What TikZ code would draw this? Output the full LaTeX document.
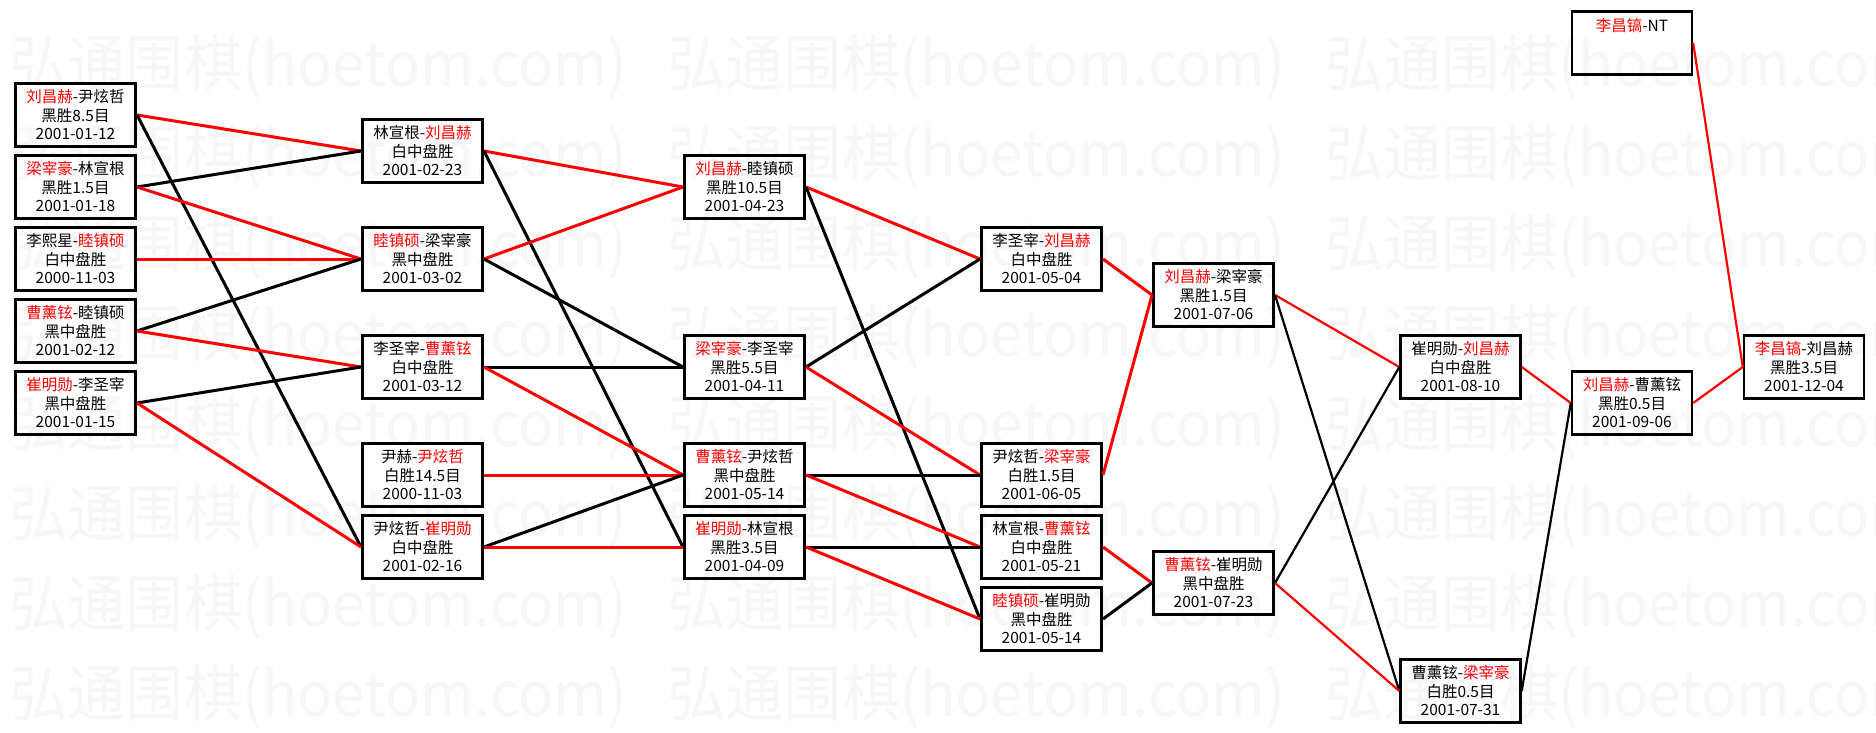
\documentclass[tikz,border=0pt]{standalone}
\usepackage{fontspec}
\usepackage{graphicx}
\newfontfamily\cjk{Noto Sans CJK SC}
\def\win#1{\textcolor{red}{#1}}
\tikzset{
	game/.style={draw, line width=1.5pt, minimum width=60pt, minimum height=31.5pt,
		inner sep=0pt, align=center, font=\cjk\fontsize{7.75}{9.25}\selectfont},
	gamethin/.style={game, line width=1.2pt},
	won/.style={draw=red, line width=1.5pt},
	lost/.style={draw=black, line width=1.5pt},
	wonthin/.style={won, line width=1.1pt},
	lostthin/.style={lost, line width=1.1pt},
	mark wm/.style={anchor=west, inner sep=0pt, text=black!3}
}

\begin{document}
\begin{tikzpicture}[x=0.5pt, y=-0.5pt]
		%%%%% START %%%%%
		\useasboundingbox[fill=white] (0, 0) rectangle (1876, 733);
		\foreach \wy in {67, 157, ..., 697}
			\foreach \wx in {9, 667, 1325}
				\node[mark wm] (wm-\wx-\wy) at (\wx, \wy) {\resizebox{309pt}{26pt}{\cjk 弘通围棋(hoetom.com)}};
		
		% round 1
		\node[game] (c1a) at (75.5, 115) {\win{刘昌赫}-尹炫哲\\黑胜8.5目\\2001-01-12};
		\node[game] (c1b) at (75.5, 187) {\win{梁宰豪}-林宣根\\黑胜1.5目\\2001-01-18};
		\node[game] (c1c) at (75.5, 259) {李熙星-\win{睦镇硕}\\白中盘胜\\2000-11-03};
		\node[game] (c1d) at (75.5, 331) {\win{曹薰铉}-睦镇硕\\黑中盘胜\\2001-02-12};
		\node[game] (c1e) at (75.5, 403) {\win{崔明勋}-李圣宰\\黑中盘胜\\2001-01-15};
		
		% round 2
		\node[game] (c2a) at (422.5, 151) {林宣根-\win{刘昌赫}\\白中盘胜\\2001-02-23};
		\node[game] (c2b) at (422.5, 259) {\win{睦镇硕}-梁宰豪\\黑中盘胜\\2001-03-02};
		\node[game] (c2c) at (422.5, 367) {李圣宰-\win{曹薰铉}\\白中盘胜\\2001-03-12};
		\node[game] (c2d) at (422.5, 475) {尹赫-\win{尹炫哲}\\白胜14.5目\\2000-11-03};
		\node[game] (c2e) at (422.5, 547) {尹炫哲-\win{崔明勋}\\白中盘胜\\2001-02-16};
		
		% round 3
		\node[game] (c3a) at (744.5, 187) {\win{刘昌赫}-睦镇硕\\黑胜10.5目\\2001-04-23};
		\node[game] (c3b) at (744.5, 367) {\win{梁宰豪}-李圣宰\\黑胜5.5目\\2001-04-11};
		\node[game] (c3c) at (744.5, 475) {\win{曹薰铉}-尹炫哲\\黑中盘胜\\2001-05-14};
		\node[game] (c3d) at (744.5, 547) {\win{崔明勋}-林宣根\\黑胜3.5目\\2001-04-09};
		
		% round 4
		\node[game] (c4a) at (1041.5, 259) {李圣宰-\win{刘昌赫}\\白中盘胜\\2001-05-04};
		\node[game] (c4b) at (1041.5, 475) {尹炫哲-\win{梁宰豪}\\白胜1.5目\\2001-06-05};
		\node[game] (c4c) at (1041.5, 547) {林宣根-\win{曹薰铉}\\白中盘胜\\2001-05-21};
		\node[game] (c4d) at (1041.5, 619) {\win{睦镇硕}-崔明勋\\黑中盘胜\\2001-05-14};
		
		% round 5 to final
		\node[game] (c5a) at (1213.5, 295) {\win{刘昌赫}-梁宰豪\\黑胜1.5目\\2001-07-06};
		\node[game] (c5b) at (1213.5, 583) {\win{曹薰铉}-崔明勋\\黑中盘胜\\2001-07-23};
		\node[gamethin] (c6a) at (1460.5, 367) {崔明勋-\win{刘昌赫}\\白中盘胜\\2001-08-10};
		\node[gamethin] (c6b) at (1460.5, 691) {曹薰铉-\win{梁宰豪}\\白胜0.5目\\2001-07-31};
		\node[gamethin] (c7) at (1632, 403) {\win{刘昌赫}-曹薰铉\\黑胜0.5目\\2001-09-06};
		\node[gamethin] (c8) at (1804, 367) {\win{李昌镐}-刘昌赫\\黑胜3.5目\\2001-12-04};
		\node[gamethin] (nt) at (1632, 43) {\win{李昌镐}-NT\\\mbox{}\\\mbox{}};
		
		% round 1 -> 2
		\draw[won] (c1a.east) -- (c2a.west);
		\draw[lost] (c1a.east) -- (c2e.west);
		\draw[lost] (c1b.east) -- (c2a.west);
		\draw[won] (c1b.east) -- (c2b.west);
		\draw[won] (c1c.east) -- (c2b.west);
		\draw[lost] (c1d.east) -- (c2b.west);
		\draw[won] (c1d.east) -- (c2c.west);
		\draw[lost] (c1e.east) -- (c2c.west);
		\draw[won] (c1e.east) -- (c2e.west);
		
		% round 2 -> 3
		\draw[won] (c2a.east) -- (c3a.west);
		\draw[lost] (c2a.east) -- (c3d.west);
		\draw[won] (c2b.east) -- (c3a.west);
		\draw[lost] (c2b.east) -- (c3b.west);
		\draw[lost] (c2c.east) -- (c3b.west);
		\draw[won] (c2c.east) -- (c3c.west);
		\draw[won] (c2d.east) -- (c3c.west);
		\draw[lost] (c2e.east) -- (c3c.west);
		\draw[won] (c2e.east) -- (c3d.west);
		
		% round 3 -> 4
		\draw[won] (c3a.east) -- (c4a.west);
		\draw[lost] (c3a.east) -- (c4d.west);
		\draw[lost] (c3b.east) -- (c4a.west);
		\draw[won] (c3b.east) -- (c4b.west);
		\draw[lost] (c3c.east) -- (c4b.west);
		\draw[won] (c3c.east) -- (c4c.west);
		\draw[lost] (c3d.east) -- (c4c.west);
		\draw[won] (c3d.east) -- (c4d.west);
		
		% round 4 -> 5
		\draw[won] (c4a.east) -- (c5a.west);
		\draw[won] (c4b.east) -- (c5a.west);
		\draw[won] (c4c.east) -- (c5b.west);
		\draw[lost] (c4d.east) -- (c5b.west);
		
		% round 5 -> final
		\draw[wonthin] (c5a.east) -- (c6a.west);
		\draw[lostthin] (c5a.east) -- (c6b.west);
		\draw[lostthin] (c5b.east) -- (c6a.west);
		\draw[wonthin] (c5b.east) -- (c6b.west);
		\draw[wonthin] (c6a.east) -- (c7.west);
		\draw[lostthin] (c6b.east) -- (c7.west);
		\draw[wonthin] (c7.east) -- (c8.west);
		\draw[wonthin] (nt.east) -- (c8.west);
		%%%%% END %%%%%
\end{tikzpicture}
\end{document}
